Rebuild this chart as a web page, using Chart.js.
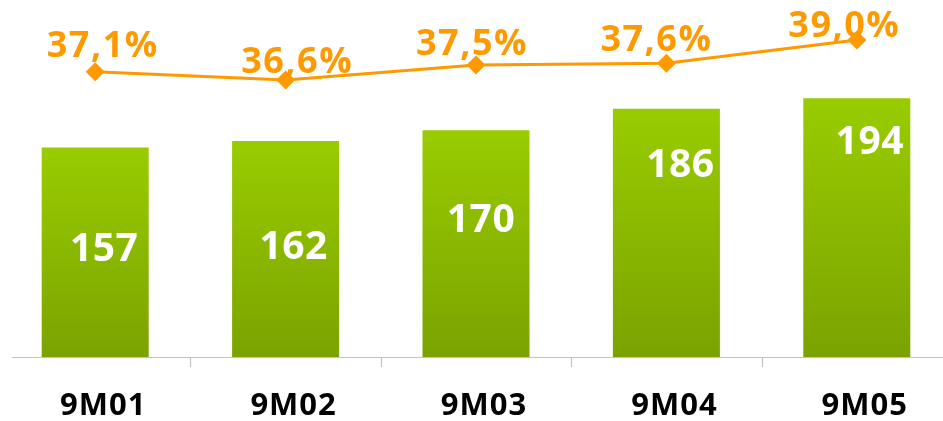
<!DOCTYPE html>
<html>
<head>
<meta charset="utf-8">
<script src="https://cdn.jsdelivr.net/npm/chart.js@4.4.1/dist/chart.umd.min.js"></script>
<style>
  html, body { margin: 0; padding: 0; background: #fff; overflow: hidden; }
  #wrap { width: 943px; height: 421px; overflow: hidden; position: relative; }
  canvas { display: block; }
</style>
</head>
<body>
<div id="wrap"><canvas id="c" width="952" height="421"></canvas></div>
<script>
const categories = ['9M01', '9M02', '9M03', '9M04', '9M05'];
const barValues = [157, 162, 170, 186, 194];
const marginValues = [37.1, 36.6, 37.5, 37.6, 39.0];
const marginLabels = ['37,1%', '36,6%', '37,5%', '37,6%', '39,0%'];

const GREEN_TOP = '#99CC00';
const GREEN_BOTTOM = '#7BA300';
const ORANGE = '#FF9900';

function barGradient(ctx) {
  const chart = ctx.chart;
  const area = chart.chartArea;
  if (!area || ctx.dataIndex === undefined) return GREEN_TOP;
  const y = chart.scales.y;
  const top = y.getPixelForValue(barValues[ctx.dataIndex]);
  const g = chart.ctx.createLinearGradient(0, top, 0, area.bottom);
  g.addColorStop(0, GREEN_TOP);
  g.addColorStop(1, GREEN_BOTTOM);
  return g;
}

const overlay = {
  id: 'overlay',
  afterDatasetsDraw(chart, args, opts) {
    const ctx = chart.ctx;
    const x = chart.scales.x;
    const area = chart.chartArea;
    ctx.save();
    ctx.strokeStyle = '#c4c4c4';
    ctx.lineWidth = 1.2;
    ctx.beginPath();
    ctx.moveTo(12, area.bottom + 0.5);
    ctx.lineTo(943, area.bottom + 0.5);
    ctx.stroke();
    for (let i = 1; i < categories.length; i++) {
      const px = Math.round((x.getPixelForValue(i - 1) + x.getPixelForValue(i)) / 2) + 0.5;
      ctx.beginPath();
      ctx.moveTo(px, area.bottom);
      ctx.lineTo(px, area.bottom + 10);
      ctx.stroke();
    }
    ctx.fillStyle = '#000';
    ctx.font = '700 31px "Open Sans"';
    ctx.textAlign = 'center';
    ctx.textBaseline = 'alphabetic';
    try { ctx.letterSpacing = '1px'; } catch (e) {}
    categories.forEach((c, i) => {
      ctx.fillText(c, x.getPixelForValue(i) + 8, 415);
    });
    const barMeta = chart.getDatasetMeta(1);
    ctx.fillStyle = '#fff';
    ctx.font = '700 39px "Open Sans"';
    try { ctx.letterSpacing = '0.5px'; } catch (e) {}
    barMeta.data.forEach((bar, i) => {
      const cx = bar.x + opts.barDx[i];
      const cy = bar.y + opts.barDy[i];
      ctx.fillText(String(barValues[i]), cx, cy + 0.357 * 39);
    });
    const lineMeta = chart.getDatasetMeta(0);
    ctx.fillStyle = ORANGE;
    ctx.font = '700 36px "Open Sans"';
    try { ctx.letterSpacing = '1.5px'; } catch (e) {}
    lineMeta.data.forEach((pt, i) => {
      const cx = pt.x + opts.lineDx[i];
      const cy = pt.y + opts.lineDy[i];
      ctx.fillText(marginLabels[i], cx, cy + 0.357 * 36);
    });
    ctx.restore();
  }
};

new Chart(document.getElementById('c'), {
  data: {
    labels: categories,
    datasets: [
      {
        type: 'line',
        data: marginValues,
        yAxisID: 'y2',
        borderColor: ORANGE,
        backgroundColor: ORANGE,
        borderWidth: 3,
        pointStyle: 'rectRot',
        pointRadius: 9.5,
        pointHoverRadius: 9.5,
        pointBorderWidth: 0,
        pointBackgroundColor: ORANGE,
        tension: 0,
        clip: false,
        order: 0
      },
      {
        type: 'bar',
        data: barValues,
        yAxisID: 'y',
        backgroundColor: barGradient,
        borderWidth: 0,
        categoryPercentage: 1,
        barPercentage: 0.562,
        order: 1
      }
    ]
  },
  options: {
    responsive: false,
    devicePixelRatio: 1,
    animation: false,
    events: [],
    layout: { autoPadding: false, padding: { left: 0, right: 0, top: 0, bottom: 64 } },
    plugins: {
      legend: { display: false },
      tooltip: { enabled: false },
      overlay: {
        barDx: [9, 8, 5, 14, 13],
        barDy: [100, 104, 88, 54, 42],
        lineDx: [7.5, 11.5, -4, -10, -12.5],
        lineDy: [-27.5, -19.5, -22.5, -24.8, -16]
      }
    },
    scales: {
      x: { display: false, offset: true, grid: { offset: true } },
      y: { display: false, min: 0, max: 267.6 },
      y2: { display: false, min: 19.98, max: 41.4 }
    }
  },
  plugins: [overlay]
});
</script>
</body>
</html>
